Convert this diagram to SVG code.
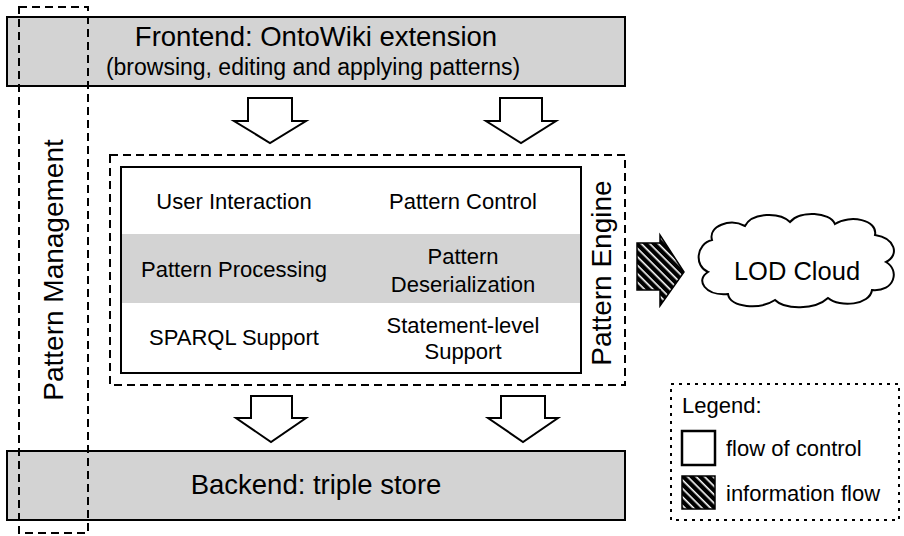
<svg xmlns="http://www.w3.org/2000/svg" width="904" height="536" viewBox="0 0 904 536">
<style>
text{font-family:"Liberation Sans",Arial,sans-serif;fill:#000}
.bar{fill:#d3d3d3;stroke:#000;stroke-width:2}
.dash{fill:none;stroke:#000;stroke-width:2;stroke-dasharray:8 5}
.dot{fill:none;stroke:#000;stroke-width:2;stroke-dasharray:3 5}
.ctrl{fill:#fff;stroke:#000;stroke-width:2;stroke-linejoin:miter}
.big{font-size:27.5px}
.mid{font-size:22px}
.c{text-anchor:middle}
</style>
<defs>
<pattern id="hatch" patternUnits="userSpaceOnUse" width="6" height="6" patternTransform="rotate(45)">
<rect width="6" height="6" fill="#000"/>
<rect x="0" y="0" width="6" height="1.6" fill="#fff"/>
</pattern>
</defs>
<g id="frontend">
<rect class="bar" x="7" y="17" width="618" height="69"/>
<text class="big c" x="316" y="46">Frontend: OntoWiki extension</text>
<text class="c" x="313" y="75" style="font-size:23px">(browsing, editing and applying patterns)</text>
</g>
<g id="backend">
<rect class="bar" x="7" y="451" width="618" height="69"/>
<text class="big c" x="316" y="494">Backend: triple store</text>
</g>
<g id="pattern-management">
<rect class="dash" x="19" y="7" width="69" height="526"/>
<text class="big c" transform="translate(63 270) rotate(-90)" style="font-size:28px">Pattern Management</text>
</g>
<g id="pattern-engine">
<rect class="dash" x="110" y="155" width="515" height="230"/>
<rect x="121" y="234" width="460" height="69" fill="#d3d3d3"/>
<rect x="121" y="167" width="460" height="206" fill="none" stroke="#000" stroke-width="2"/>
<text class="mid c" x="234" y="209">User Interaction</text>
<text class="mid c" x="463" y="209">Pattern Control</text>
<text class="mid c" x="234" y="277">Pattern Processing</text>
<text class="mid c" x="463" y="264">Pattern</text>
<text class="mid c" x="463" y="292">Deserialization</text>
<text class="mid c" x="234" y="345">SPARQL Support</text>
<text class="mid c" x="463" y="333">Statement-level</text>
<text class="mid c" x="463" y="359">Support</text>
<text class="big c" transform="translate(611 273) rotate(-90)" style="font-size:28px">Pattern Engine</text>
</g>
<g id="lod-cloud">
<path d="M712 240 C708 226 730 218 745 226 C752 212 780 212 790 222 C800 210 830 212 835 224 C850 214 878 220 875 235 C895 238 900 255 886 262 C900 270 895 292 872 290 C870 305 840 308 828 298 C815 310 785 310 775 300 C760 310 730 308 728 294 C705 296 695 280 708 272 C694 266 696 244 712 240 Z" fill="#fff" stroke="#000" stroke-width="2"/>
<text class="c" x="797" y="280" style="font-size:25.5px">LOD Cloud</text>
</g>
<g id="legend">
<rect class="dot" x="671" y="384" width="228" height="136"/>
<text class="mid" x="682" y="413">Legend:</text>
<rect x="682" y="431" width="33" height="34" fill="#fff" stroke="#000" stroke-width="2.5"/>
<text class="mid" x="726" y="456">flow of control</text>
<rect x="682" y="476" width="33" height="33" fill="url(#hatch)" stroke="#000" stroke-width="1.5"/>
<text class="mid" x="726" y="501">information flow</text>
</g>
<g id="connectors">
<path class="ctrl" d="M248 98 H292 V121 H306 L270 143 L234 121 H248 Z"/>
<path class="ctrl" d="M500 98 H542 V121 H556 L521 143 L486 121 H500 Z"/>
<path class="ctrl" d="M251 396 H292 V418 H306 L271 442 L236 418 H251 Z"/>
<path class="ctrl" d="M501 396 H545 V418 H558 L523 442 L488 418 H501 Z"/>
<path d="M637 243 H660 V235 L684 272 L660 306 V290 H637 Z" fill="url(#hatch)" stroke="#000" stroke-width="1.5"/>
</g>
</svg>
